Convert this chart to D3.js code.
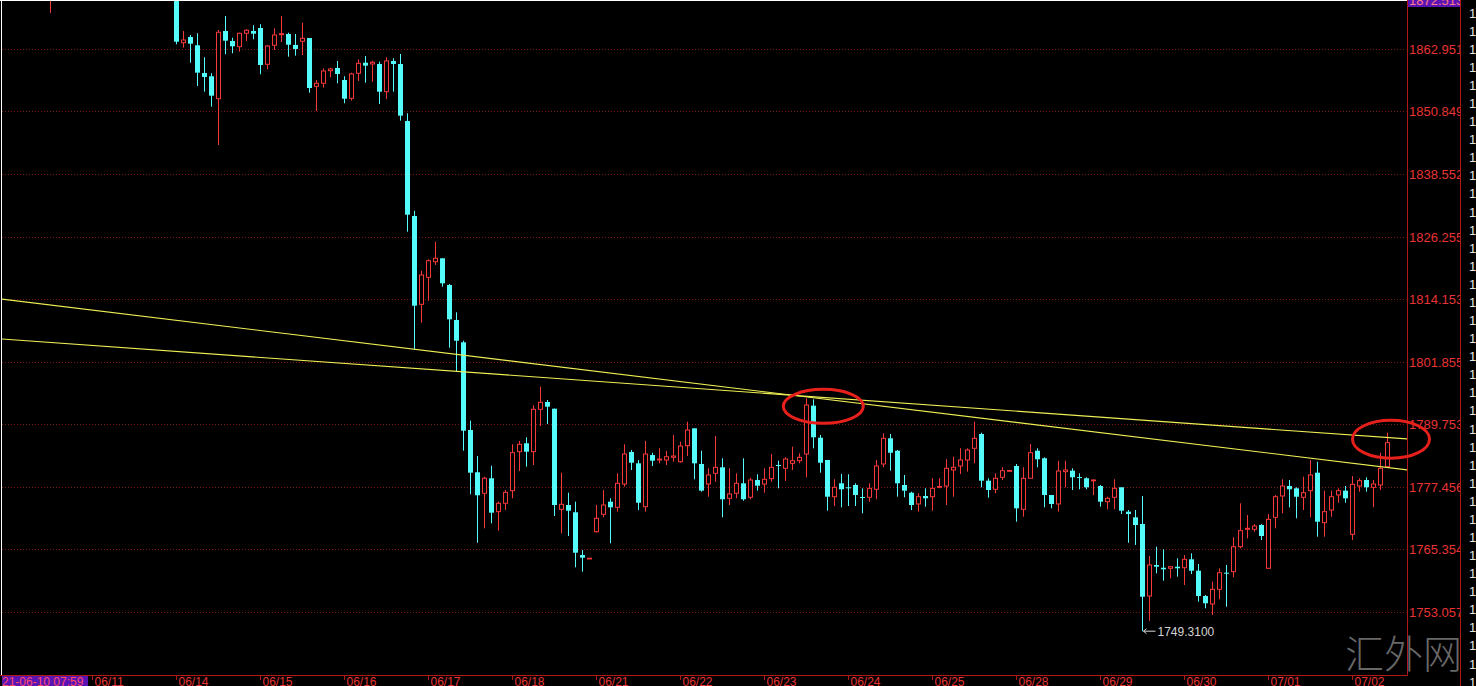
<!DOCTYPE html>
<html><head><meta charset="utf-8">
<script src="https://cdn.jsdelivr.net/npm/d3@7"></script>
<style>html,body{margin:0;padding:0;background:#000;overflow:hidden}svg{display:block}</style>
</head><body><svg id="chart" width="1476" height="686"></svg>
<script>
// ---------------- data ----------------
const startLabel = "21-06-10 07:59";
const dayLabels = ["06/11","06/14","06/15","06/16","06/17","06/18","06/21","06/22","06/23","06/24","06/25","06/28","06/29","06/30","07/01","07/02"];
const barsPerDay = 12;
const firstDaySlot = 6;
const priceTicks = [1753.057,1765.354,1777.456,1789.753,1801.855,1814.153,1826.255,1838.552,1850.849,1862.951];
const topTickLabel = "1872.513";
const priceDomain = [1740.76, 1872.516];
const N = null;
const opens = [1873.5,N,N,N,N,N,N,N,N,N,N,N,N,N,N,N,N,N,
1876.0,1864.18,1865.30,1863.68,1858.27,1857.63,1853.25,1866.47,1864.52,1863.40,1866.02,1866.47,
1867.05,1859.97,1863.68,1865.75,1865.88,1863.74,1864.46,1865.10,1855.67,1856.26,
1858.72,1859.25,1856.90,1853.33,1858.21,1860.28,1860.03,1860.03,1854.62,1860.61,
1860.03,1848.90,1830.36,1813.12,1818.39,1821.43,1822.10,1816.89,1810.06,1805.70,
1788.58,1780.33,1776.23,1779.16,1772.64,1774.28,1776.74,1784.35,1785.99,1784.35,
1792.62,1794.05,1792.74,1773.10,1773.94,1772.52,1764.18,1763.50,1768.73,1772.13,
1774.59,1773.49,1778.04,1784.29,1782.08,1773.61,1783.70,1782.73,1782.73,1783.25,
1782.39,1785.52,1788.91,1781.95,1778.04,1780.13,1781.30,1775.25,1776.23,1778.18,
1775.45,1778.82,1778.04,1779.08,1781.75,1781.11,1782.08,1782.59,1783.90,1793.33,
1787.08,1782.73,1775.56,1778.18,1777.40,1777.85,1775.50,1775.45,1777.01,1781.95,
1786.96,1784.54,1777.85,1776.34,1774.14,1775.70,1775.56,1777.45,1777.65,1780.78,
1781.56,1782.73,1785.01,1787.80,1778.69,1777.01,1779.35,1780.60,1781.56,1773.10,
1779.16,1784.54,1783.06,1775.90,1774.14,1780.45,1780.64,1779.40,1779.16,1778.69,
1777.65,1774.59,1775.45,1777.40,1772.64,1771.54,1770.24,1756.18,1762.23,1761.70,
1761.59,1761.90,1761.70,1763.34,1761.12,1756.18,1754.62,1757.49,1760.73,1760.93,
1765.80,1769.20,1769.20,1770.04,1761.59,1771.54,1775.70,1777.65,1777.20,1775.45,
1776.74,1780.25,1770.49,1772.97,1775.90,1776.74,1768.22,1777.65,1778.82,1777.40,
1777.85,1781.42];
const highs = [1877.0,N,N,N,N,N,N,N,N,N,N,N,N,N,N,N,N,N,
1878.0,1866.47,1865.69,1866.02,1861.34,1858.21,1866.66,1869.40,1865.16,1866.14,1866.80,1867.58,
1867.78,1863.74,1866.99,1869.40,1866.14,1865.88,1868.09,1865.10,1856.90,1859.19,
1859.25,1860.61,1857.63,1858.33,1860.94,1861.59,1860.67,1860.48,1861.34,1861.14,
1861.98,1850.40,1831.39,1819.68,1821.90,1825.34,1822.10,1817.08,1811.56,1806.01,
1790.40,1783.51,1779.47,1781.61,1774.59,1776.87,1785.79,1786.44,1787.16,1793.40,
1797.04,1794.44,1792.74,1780.25,1776.34,1774.59,1765.16,1763.60,1773.94,1776.87,
1775.25,1780.13,1785.79,1784.68,1782.73,1786.44,1784.15,1785.01,1784.49,1787.61,
1786.30,1790.20,1788.91,1784.54,1781.11,1787.41,1783.06,1781.11,1780.13,1783.06,
1779.27,1779.94,1781.11,1783.90,1782.59,1783.25,1785.32,1784.04,1794.77,1794.57,
1787.61,1782.73,1778.96,1780.00,1779.94,1778.18,1777.20,1778.18,1782.73,1787.94,
1787.80,1784.68,1779.80,1776.54,1776.23,1777.20,1779.16,1779.16,1782.87,1783.37,
1785.01,1785.01,1790.20,1788.06,1779.16,1780.13,1781.30,1780.70,1781.95,1781.30,
1785.85,1785.01,1783.25,1775.90,1782.59,1782.59,1781.11,1780.13,1779.35,1778.96,
1777.85,1775.56,1778.96,1777.40,1772.97,1772.97,1775.70,1763.99,1765.80,1765.30,
1761.90,1763.54,1764.18,1764.51,1762.43,1756.38,1758.97,1761.59,1762.23,1767.64,
1774.28,1771.99,1770.23,1770.23,1772.19,1775.90,1778.96,1778.82,1777.40,1779.47,
1782.73,1782.39,1776.74,1776.74,1777.20,1777.65,1779.60,1779.16,1779.35,1778.82,
1784.15,1788.06];
const lows = [1870.0,N,N,N,N,N,N,N,N,N,N,N,N,N,N,N,N,N,
1863.87,1863.21,1860.28,1855.73,1854.62,1851.69,1844.22,1861.92,1862.11,1862.43,1864.52,1864.85,
1858.02,1858.99,1862.76,1864.32,1861.45,1861.65,1861.78,1854.42,1850.85,1855.40,
1857.43,1856.26,1852.36,1852.86,1856.71,1856.38,1856.57,1852.22,1853.20,1854.62,
1848.96,1827.29,1804.20,1809.53,1813.82,1820.79,1816.56,1804.65,1799.96,1784.54,
1776.03,1766.58,1769.39,1770.37,1768.93,1772.97,1775.25,1780.58,1781.42,1781.75,
1789.36,1789.76,1771.80,1768.42,1767.89,1761.78,1760.92,1763.50,1768.54,1771.54,
1766.47,1772.64,1777.51,1780.78,1772.97,1772.64,1781.56,1782.08,1781.75,1782.39,
1782.20,1783.51,1778.96,1776.54,1775.56,1778.49,1771.54,1773.94,1775.25,1774.78,
1775.06,1776.74,1776.34,1778.49,1777.20,1778.63,1780.78,1782.08,1779.35,1785.01,
1780.25,1772.83,1773.75,1773.49,1773.75,1773.75,1772.32,1774.59,1775.06,1781.30,
1780.64,1775.56,1775.45,1772.97,1772.64,1773.61,1772.83,1777.20,1773.94,1775.56,
1780.00,1780.45,1782.08,1777.40,1775.37,1776.23,1778.82,1780.60,1770.68,1771.65,
1779.16,1781.30,1773.49,1773.30,1772.64,1777.40,1776.87,1777.01,1777.01,1775.90,
1773.61,1773.10,1773.10,1772.19,1766.58,1766.14,1749.31,1751.36,1760.61,1759.17,
1759.63,1759.95,1758.33,1760.47,1755.07,1753.78,1752.47,1755.54,1754.09,1759.83,
1765.49,1767.44,1768.73,1767.11,1761.59,1769.39,1772.32,1773.49,1771.35,1772.97,
1771.54,1767.76,1767.76,1771.65,1774.39,1774.39,1767.11,1776.54,1776.54,1773.49,
1776.87,1781.42];
const closes = [1875.0,N,N,N,N,N,N,N,N,N,N,N,N,N,N,N,N,N,
1864.38,1864.71,1863.99,1858.33,1857.49,1853.84,1866.22,1864.57,1863.48,1866.02,1866.61,1865.94,
1859.83,1863.54,1865.69,1865.94,1863.79,1862.96,1865.04,1855.34,1856.26,1858.66,
1859.05,1858.08,1853.25,1858.08,1860.16,1859.70,1860.36,1854.62,1860.61,1860.03,
1849.94,1830.61,1812.85,1818.84,1821.63,1822.10,1817.22,1810.19,1806.01,1788.45,
1780.25,1775.84,1779.16,1772.44,1774.28,1776.42,1784.15,1785.79,1784.35,1792.62,
1793.99,1793.13,1773.94,1774.08,1772.83,1764.63,1763.66,1763.56,1771.35,1773.94,
1773.49,1778.18,1783.90,1782.20,1774.39,1783.90,1782.59,1782.92,1783.37,1783.51,
1785.46,1788.58,1782.08,1776.74,1779.80,1781.30,1775.06,1776.09,1778.18,1775.06,
1778.82,1777.71,1778.96,1781.30,1781.56,1782.92,1782.59,1783.25,1793.46,1787.16,
1782.20,1775.56,1777.40,1777.01,1777.26,1775.90,1775.40,1777.20,1781.56,1786.96,
1784.15,1778.18,1776.74,1773.94,1775.56,1775.25,1777.20,1777.55,1781.11,1781.30,
1782.73,1784.68,1786.96,1778.69,1776.87,1779.16,1780.64,1780.68,1773.30,1779.16,
1784.15,1782.87,1775.90,1774.14,1780.58,1780.78,1779.35,1779.30,1777.40,1778.82,
1774.59,1775.25,1777.20,1772.83,1772.19,1770.04,1756.04,1762.23,1761.90,1761.39,
1761.90,1761.59,1763.34,1761.12,1756.18,1754.76,1757.49,1760.73,1760.61,1765.80,
1768.93,1769.39,1769.84,1767.89,1771.15,1775.56,1777.65,1777.01,1775.56,1776.34,
1779.80,1770.68,1772.64,1775.56,1776.74,1775.25,1777.98,1778.69,1777.40,1778.04,
1781.11,1786.11];
const trendA = [{slot:-7, price:1814.13},{slot:194, price:1780.76}];
const trendB = [{slot:-7, price:1806.34},{slot:194, price:1786.82}];
const markCircles = [{slot:110.4, price:1793.21},{slot:191.5, price:1786.79}];
const lowMark = {slot:156, price:1749.31, label:"1749.3100"};
const sideTickLabels = Array.from({length:38}, () => "1");
const watermark = "汇外网";

// ---------------- drawing ----------------
const W = 1476, H = 686;
const PLOT_R = 1407.5, PLOT_B = 675.5, AXIS2 = 1460.5;
const RED = "#f5383a", CYAN = "#54fcfc", GRID = "#7a1616", AXIS = "#b01818", TXT = "#e83434";
const FONT = "'Liberation Sans', Arial, sans-serif";

const svg = d3.select("#chart");
svg.append("rect").attr("width", W).attr("height", H).attr("fill", "#000");

const x = d3.scaleLinear().domain([0, 191]).range([50.5, 50.5 + 7 * 191]);
const y = d3.scaleLinear().domain(priceDomain).range([675, 0]);

const defs = svg.append("defs");
defs.append("clipPath").attr("id", "plotClip").append("rect")
  .attr("x", 2).attr("y", 1).attr("width", PLOT_R - 2.5).attr("height", 674);
defs.append("clipPath").attr("id", "axisClip").append("rect")
  .attr("x", 1408).attr("y", 0).attr("width", 52).attr("height", 676);

// grid
svg.append("g").selectAll("line").data(priceTicks).join("line")
  .attr("x1", 2).attr("x2", PLOT_R - 1)
  .attr("y1", d => Math.round(y(d)) + 0.5).attr("y2", d => Math.round(y(d)) + 0.5)
  .attr("stroke", GRID).attr("stroke-dasharray", "1,2");

// candles
const bars = opens.map((o, i) => o == null ? null : {slot: i, o, h: highs[i], l: lows[i], c: closes[i]}).filter(Boolean);
const plot = svg.append("g").attr("clip-path", "url(#plotClip)");
const cg = plot.append("g").selectAll("g").data(bars).join("g");
cg.append("line")
  .attr("x1", d => x(d.slot)).attr("x2", d => x(d.slot))
  .attr("y1", d => y(d.h)).attr("y2", d => y(d.l))
  .attr("stroke", d => d.c >= d.o ? RED : CYAN).attr("stroke-width", 1);
cg.filter(d => d.c >= d.o).append("rect")
  .attr("x", d => x(d.slot) - 2).attr("width", 4)
  .attr("y", d => y(d.c)).attr("height", d => Math.max(0.8, y(d.o) - y(d.c)))
  .attr("fill", "#000").attr("stroke", RED).attr("stroke-width", 1);
cg.filter(d => d.c < d.o).append("rect")
  .attr("x", d => x(d.slot) - 2.5).attr("width", 5)
  .attr("y", d => y(d.o)).attr("height", d => Math.max(1, y(d.c) - y(d.o)))
  .attr("fill", CYAN);

// trend lines
const tl = d3.line().x(d => x(d.slot)).y(d => y(d.price));
[trendA, trendB].forEach(t => plot.append("path").attr("d", tl(t))
  .attr("fill", "none").attr("stroke", "#eeee55").attr("stroke-width", 1.1));

// low marker
const lx = x(lowMark.slot), ly = y(lowMark.price);
svg.append("path")
  .attr("d", `M${lx+1},${ly} L${lx+13},${ly} M${lx+1},${ly} L${lx+4},${ly-2.5} M${lx+1},${ly} L${lx+4},${ly+2.5}`)
  .attr("stroke", "#d8d8d8").attr("fill", "none").attr("stroke-width", 1);
svg.append("text").attr("x", lx + 15).attr("y", ly).attr("dy", "0.36em")
  .attr("fill", "#d4d4d4").attr("font-family", FONT).attr("font-size", 12)
  .text(lowMark.label);

// borders
svg.append("line").attr("x1", 1.5).attr("x2", 1.5).attr("y1", 0).attr("y2", PLOT_B).attr("stroke", "#fff");
svg.append("line").attr("x1", 0).attr("x2", PLOT_R).attr("y1", 0.5).attr("y2", 0.5).attr("stroke", "#fff");
svg.append("line").attr("x1", PLOT_R).attr("x2", PLOT_R).attr("y1", 0).attr("y2", PLOT_B).attr("stroke", AXIS);
svg.append("line").attr("x1", 0).attr("x2", PLOT_R).attr("y1", PLOT_B).attr("y2", PLOT_B).attr("stroke", AXIS);
svg.append("line").attr("x1", AXIS2).attr("x2", AXIS2).attr("y1", 0).attr("y2", H).attr("stroke", AXIS);

// right price axis
const ax = svg.append("g").attr("clip-path", "url(#axisClip)");
ax.append("rect").attr("x", 1408).attr("y", -8).attr("width", 52).attr("height", 15).attr("fill", "#5a14b4");
ax.append("text").attr("x", 1409).attr("y", 0).attr("dy", "0.36em").attr("fill", "#ff7a8a")
  .attr("font-family", FONT).attr("font-size", 13).text(topTickLabel);
const yAxis = ax.append("g").attr("transform", "translate(1406,0)")
  .call(d3.axisRight(y).tickValues(priceTicks).tickSize(0).tickPadding(3).tickFormat(d3.format(".3f")));
yAxis.select(".domain").remove();
yAxis.selectAll("text").attr("fill", TXT).attr("font-family", FONT).attr("font-size", 13);

// far right clipped labels
svg.append("g").selectAll("text").data(sideTickLabels).join("text")
  .attr("x", 1469).attr("y", (d, i) => 13 + i * 18.08).attr("dy", "0.36em")
  .attr("fill", "#e6e6e6").attr("font-family", FONT).attr("font-size", 13).text(d => d);

// time axis
const dayTicks = dayLabels.map((d, i) => ({label: d, slot: firstDaySlot + i * barsPerDay}));
const xa = svg.append("g");
xa.selectAll("line").data(dayTicks).join("line")
  .attr("x1", d => x(d.slot)).attr("x2", d => x(d.slot)).attr("y1", PLOT_B).attr("y2", 680)
  .attr("stroke", AXIS);
xa.selectAll("text").data(dayTicks).join("text")
  .attr("x", d => x(d.slot) + 2).attr("y", 686)
  .attr("fill", TXT).attr("font-family", FONT).attr("font-size", 12).text(d => d.label);
svg.append("rect").attr("x", 2).attr("y", 676).attr("width", 86).attr("height", 10).attr("fill", "#5a14b4");
svg.append("text").attr("x", 2).attr("y", 686).attr("fill", "#ff4a6a")
  .attr("font-family", FONT).attr("font-size", 12).text(startLabel);

// annotation ellipses
const rad = [[40, 17], [38.5, 19]];
svg.append("g").selectAll("ellipse").data(markCircles).join("ellipse")
  .attr("cx", d => x(d.slot)).attr("cy", d => y(d.price))
  .attr("rx", (d, i) => rad[i][0]).attr("ry", (d, i) => rad[i][1])
  .attr("fill", "none").attr("stroke", "#e8201c").attr("stroke-width", 3);

// watermark
svg.append("text").attr("x", 1345).attr("y", 668)
  .attr("fill", "#7c7c7c").attr("fill-opacity", 0.85)
  .attr("font-family", "'Noto Sans CJK SC', sans-serif").attr("font-weight", 300)
  .attr("font-size", 39).text(watermark);
</script>
</body></html>
